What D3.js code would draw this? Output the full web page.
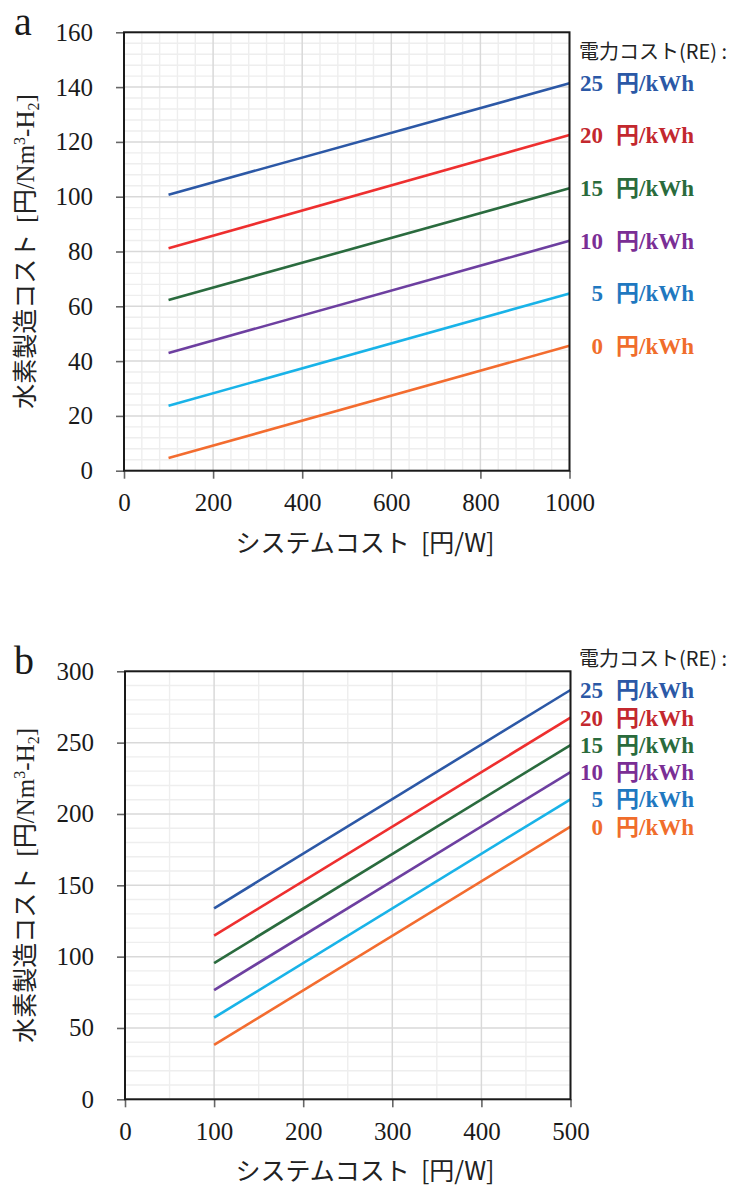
<!DOCTYPE html>
<html>
<head>
<meta charset="utf-8">
<script src="https://cdn.jsdelivr.net/npm/d3@7"></script>
<style>
  html, body { margin: 0; padding: 0; background: #fff; }
  svg { display: block; }
</style>
</head>
<body>
<svg id="chart" width="731" height="1187"></svg>
<script>
// Electricity cost levels (円/kWh), one line per level
const costLevels = [25, 20, 15, 10, 5, 0];
const lineColors = ["#2c58a6", "#ee2f2f", "#2a6b3e", "#6d3fa0", "#19b3e8", "#f36c2f"];
const labelColors = ["#2b58a6", "#c3282e", "#2a6b3c", "#7a2e95", "#1f78c0", "#f06d2b"];

// Panel a: system cost 100 → 1000 円/W
const panelA_x = [100, 1000];
const panelA_start = [100.7, 81.2, 62.3, 43.0, 23.7, 4.6];
const panelA_end = [141.4, 122.5, 103.1, 83.9, 64.7, 45.6];
const panelA_xTicks = [0, 200, 400, 600, 800, 1000];
const panelA_yTicks = [0, 20, 40, 60, 80, 100, 120, 140, 160];

// Panel b: system cost 100 → 500 円/W
const panelB_x = [100, 500];
const panelB_start = [133.9, 114.7, 95.5, 76.6, 57.2, 38.1];
const panelB_end = [286.9, 267.5, 248.3, 229.4, 210.3, 191.1];
const panelB_xTicks = [0, 100, 200, 300, 400, 500];
const panelB_yTicks = [0, 50, 100, 150, 200, 250, 300];

const SERIF = "'Liberation Serif', 'Times New Roman', 'Noto Sans CJK JP', serif";
const SANS = "'Noto Sans CJK JP', 'Noto Sans', sans-serif";

const svg = d3.select("#chart");
svg.append("rect").attr("width", 731).attr("height", 1187).attr("fill", "#fff");

function drawPanel(opt) {
  const { letter, left, right, top, bottom, xDomain, yDomain, xTicks, yTicks,
          xMinor, yMinor, xs, starts, ends } = opt;

  const x = d3.scaleLinear().domain(xDomain).range([left, right]);
  const y = d3.scaleLinear().domain(yDomain).range([bottom, top]);
  const g = svg.append("g");

  // minor grid
  const xMinorVals = d3.range(xDomain[0], xDomain[1] + 1e-9, xMinor).filter(v => !xTicks.includes(v));
  const yMinorVals = d3.range(yDomain[0], yDomain[1] + 1e-9, yMinor).filter(v => !yTicks.includes(v));
  g.append("g").selectAll("line").data(xMinorVals).join("line")
    .attr("x1", d => x(d)).attr("x2", d => x(d)).attr("y1", top).attr("y2", bottom)
    .attr("stroke", "#eeeeee").attr("stroke-width", 1.4);
  g.append("g").selectAll("line").data(yMinorVals).join("line")
    .attr("x1", left).attr("x2", right).attr("y1", d => y(d)).attr("y2", d => y(d))
    .attr("stroke", "#eeeeee").attr("stroke-width", 1.4);

  // major grid
  g.append("g").selectAll("line").data(xTicks).join("line")
    .attr("x1", d => x(d)).attr("x2", d => x(d)).attr("y1", top).attr("y2", bottom)
    .attr("stroke", "#d9d9d9").attr("stroke-width", 1.5);
  g.append("g").selectAll("line").data(yTicks).join("line")
    .attr("x1", left).attr("x2", right).attr("y1", d => y(d)).attr("y2", d => y(d))
    .attr("stroke", "#d9d9d9").attr("stroke-width", 1.5);

  // series lines
  const line = d3.line().x(d => x(d[0])).y(d => y(d[1]));
  costLevels.forEach((c, i) => {
    g.append("path")
      .datum([[xs[0], starts[i]], [xs[1], ends[i]]])
      .attr("d", line)
      .attr("fill", "none")
      .attr("stroke", lineColors[i])
      .attr("stroke-width", 2.6);
  });

  // axes
  const fmt = d3.format("d");
  const xAxis = g.append("g").attr("transform", `translate(0,${bottom})`)
    .call(d3.axisBottom(x).tickValues(xTicks).tickFormat(fmt).tickSize(8).tickPadding(15).tickSizeOuter(0));
  const yAxis = g.append("g").attr("transform", `translate(${left},0)`)
    .call(d3.axisLeft(y).tickValues(yTicks).tickFormat(fmt).tickSize(8).tickPadding(23).tickSizeOuter(0));
  [xAxis, yAxis].forEach(a => {
    a.attr("font-family", SERIF).attr("font-size", 25);
    a.select(".domain").remove();
    a.selectAll(".tick line").attr("stroke", "#666").attr("stroke-width", 1.6);
    a.selectAll(".tick text")
      .attr("fill", "#1a1a1a")
      .style("font-family", SERIF)
      .style("font-size", "25px");
  });

  // frame
  g.append("rect")
    .attr("x", left).attr("y", top).attr("width", right - left).attr("height", bottom - top)
    .attr("fill", "none").attr("stroke", "#1a1a1a").attr("stroke-width", 2);

  // panel letter
  g.append("text")
    .attr("x", 14).attr("y", top + 3)
    .style("font-family", SERIF).style("font-size", "40px")
    .attr("fill", "#1a1a1a")
    .text(letter);

  // x title
  g.append("text")
    .attr("x", 365).attr("y", bottom + 81)
    .attr("text-anchor", "middle")
    .style("font-family", SANS).style("font-size", "25px")
    .style("white-space", "pre")
    .attr("fill", "#222")
    .text("システムコスト  [円/W]");

  // y title
  const cy = (top + bottom) / 2;
  const yt = g.append("text")
    .attr("transform", `translate(34,${cy}) rotate(-90)`)
    .attr("text-anchor", "middle")
    .attr("fill", "#222")
    .style("white-space", "pre")
    .style("font-size", "25px");
  yt.append("tspan").style("font-family", SANS).text("水素製造コスト  ");
  yt.append("tspan").style("font-family", SERIF).text("[円/Nm");
  yt.append("tspan").style("font-family", SERIF).style("font-size", "16px").attr("dy", -9).text("3");
  yt.append("tspan").style("font-family", SERIF).attr("dy", 9).text("-H");
  yt.append("tspan").style("font-family", SERIF).style("font-size", "16px").attr("dy", 5).text("2");
  yt.append("tspan").style("font-family", SERIF).attr("dy", -5).text("]");

  // legend title
  g.append("text")
    .attr("x", 579).attr("y", y(ends[0]) - 31).attr("dy", "0.35em")
    .style("font-family", SANS).style("font-size", "20px")
    .style("white-space", "pre")
    .attr("fill", "#222")
    .text("電力コスト(RE) :");

  // line labels
  costLevels.forEach((c, i) => {
    const ly = y(ends[i]);
    g.append("text")
      .attr("x", 603).attr("y", ly).attr("dy", "0.35em")
      .attr("text-anchor", "end")
      .style("font-family", SERIF).style("font-size", "23px").style("font-weight", "bold")
      .attr("fill", labelColors[i])
      .text(c);
    g.append("text")
      .attr("x", 616).attr("y", ly).attr("dy", "0.35em")
      .style("font-family", SERIF).style("font-size", "23px").style("font-weight", "bold")
      .attr("fill", labelColors[i])
      .text("円/kWh");
  });
}

drawPanel({
  letter: "a", left: 124, right: 569.5, top: 32.3, bottom: 470.7,
  xDomain: [0, 1000], yDomain: [0, 160], xTicks: panelA_xTicks, yTicks: panelA_yTicks,
  xMinor: 40, yMinor: 4, xs: panelA_x, starts: panelA_start, ends: panelA_end
});

drawPanel({
  letter: "b", left: 125, right: 570.5, top: 671.3, bottom: 1099.3,
  xDomain: [0, 500], yDomain: [0, 300], xTicks: panelB_xTicks, yTicks: panelB_yTicks,
  xMinor: 50, yMinor: 10, xs: panelB_x, starts: panelB_start, ends: panelB_end
});
</script>
</body>
</html>
